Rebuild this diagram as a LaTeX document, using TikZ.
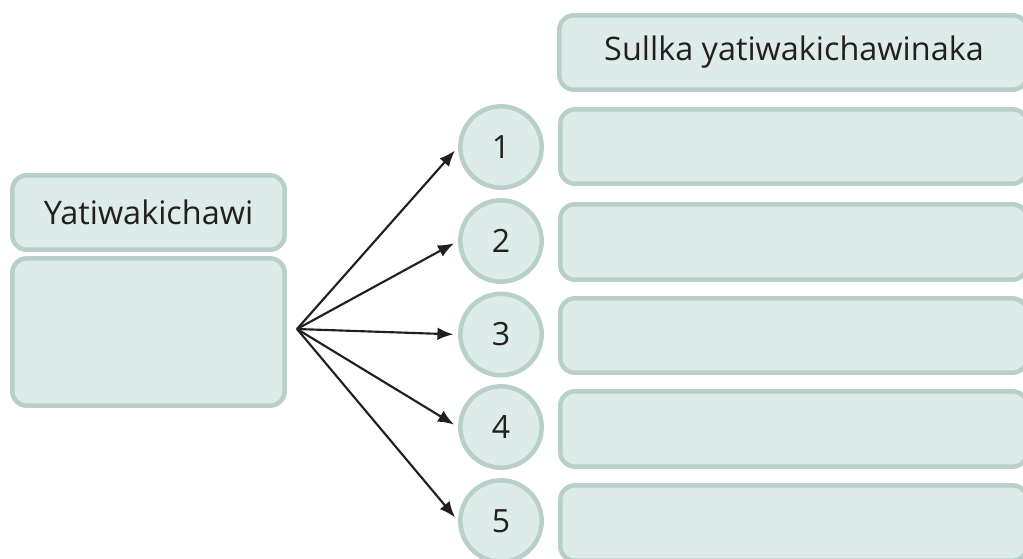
\documentclass[tikz,border=0pt]{standalone}
\usepackage{fontspec}
\setmainfont{Open Sans}
\usetikzlibrary{arrows.meta}
\definecolor{boxfill}{HTML}{DDECE8}
\definecolor{boxline}{HTML}{B8D0C7}
\definecolor{ink}{HTML}{231F20}
\tikzset{
  box/.style={draw=boxline, fill=boxfill, line width=3.4pt, rounded corners=11pt},
  num/.style={circle, draw=boxline, fill=boxfill, line width=3.4pt, minimum size=61pt, inner sep=0pt, text=ink, font=\fontsize{24}{28}\selectfont},
  lbl/.style={text=ink, font=\fontsize{24.3}{28}\selectfont, inner sep=0pt},
  arr/.style={-{Latex[length=12pt,width=9.5pt]}, line width=1.6pt, draw=ink, shorten >=3.5pt}
}
\begin{document}
\begin{tikzpicture}[x=0.75pt,y=-0.75pt]
\useasboundingbox (0,0) rectangle (1023,558);
% left boxes
\draw[box] (12.3,175.3) rectangle (284.7,249.7);
\node[lbl] (lt) at (148.5,212.5) {Yatiwakichawi};
\draw[box] (12.3,258.3) rectangle (284.7,405.7);
% header
\draw[box] (559.3,15.3) rectangle (1027,89.7);
\node[lbl] (hd) at (794,52) {Sullka yatiwakichawinaka};
% right boxes
\draw[box] (560.3,109.3) rectangle (1027,183.7);
\draw[box] (560.3,204.3) rectangle (1027,279.7);
\draw[box] (560.3,298.3) rectangle (1027,372.7);
\draw[box] (560.3,391.3) rectangle (1027,466.7);
\draw[box] (560.3,485.3) rectangle (1027,560.7);
% circles
\node[num] (c1) at (501,147) {1};
\node[num] (c2) at (501,241) {2};
\node[num] (c3) at (501,334.5) {3};
\node[num] (c4) at (501,427) {4};
\node[num] (c5) at (501,521) {5};
% arrows
\coordinate (o) at (297,329);
\draw[arr] (o) -- (c1.west);
\draw[arr] (o) -- (c2.west);
\draw[arr] (o) -- (c3.west);
\draw[arr] (o) -- (c4.west);
\draw[arr] (o) -- (c5.west);
\end{tikzpicture}
\end{document}
